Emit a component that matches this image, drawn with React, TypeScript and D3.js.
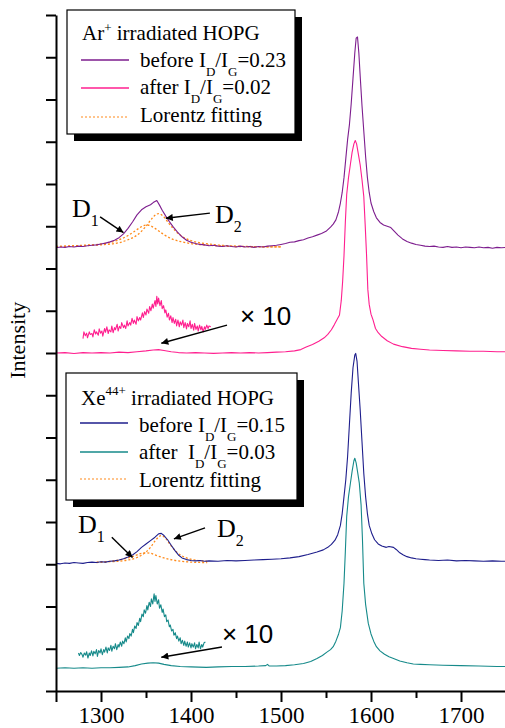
import React, { useEffect, useRef } from 'react';
import * as d3 from 'd3';

type Pt = [number, number];
type Part = { t: string; dy?: number; size?: number };

const xMajorTicks = [1250, 1300, 1400, 1500, 1600, 1700];
const xMinorTicks = [1350, 1450, 1550, 1650];
const yTicks = [0, 1, 2, 3, 4, 5, 6, 7, 8, 9, 10, 11, 12, 13, 14, 15, 16];

// Ar+ irradiated HOPG, before
const arBefore: Pt[] = [
  [1250, 10.49], [1255, 10.51], [1260, 10.5], [1265, 10.52], [1270, 10.51], [1275, 10.53], [1280, 10.52],
  [1285, 10.54], [1290, 10.55], [1295, 10.56], [1300, 10.58], [1305, 10.6], [1310, 10.63], [1315, 10.67],
  [1320, 10.73], [1325, 10.82], [1330, 10.95], [1335, 11.1], [1340, 11.27], [1345, 11.39], [1350, 11.46],
  [1355, 11.51], [1358, 11.56], [1362, 11.61], [1365, 11.5], [1368, 11.38], [1372, 11.24], [1376, 11.11],
  [1380, 10.99], [1385, 10.86], [1390, 10.75], [1395, 10.67], [1400, 10.62], [1405, 10.59], [1410, 10.57],
  [1415, 10.56], [1420, 10.54], [1425, 10.55], [1430, 10.53], [1435, 10.52], [1440, 10.54], [1445, 10.52],
  [1450, 10.51], [1455, 10.53], [1460, 10.51], [1465, 10.52], [1470, 10.5], [1475, 10.52], [1480, 10.51],
  [1485, 10.53], [1490, 10.54], [1495, 10.55], [1500, 10.57], [1505, 10.59], [1510, 10.62], [1515, 10.63],
  [1520, 10.66], [1525, 10.68], [1530, 10.72], [1535, 10.75], [1540, 10.79], [1545, 10.83], [1550, 10.88],
  [1555, 10.98], [1558, 11.05], [1561, 11.15], [1564, 11.35], [1566, 11.55], [1568, 11.8], [1570, 12.15],
  [1572, 12.6], [1574, 13.05], [1576, 13.4], [1578, 13.9], [1580, 14.5], [1582, 15.1], [1583.5, 15.45],
  [1585, 15.48], [1586.5, 15.1], [1588, 14.55], [1590, 13.85], [1592, 13.25], [1594, 12.65], [1596, 12.15],
  [1598, 11.8], [1600, 11.55], [1603, 11.35], [1606, 11.2], [1610, 11.09], [1614, 11.03], [1618, 11.0],
  [1622, 10.97], [1626, 10.88], [1630, 10.79], [1635, 10.7], [1640, 10.64], [1645, 10.6], [1650, 10.57],
  [1655, 10.55], [1660, 10.53], [1665, 10.52], [1670, 10.53], [1675, 10.51], [1680, 10.5], [1685, 10.52],
  [1690, 10.5], [1695, 10.51], [1700, 10.49], [1705, 10.51], [1710, 10.5], [1715, 10.49], [1720, 10.51],
  [1725, 10.49], [1730, 10.5], [1735, 10.48], [1740, 10.5], [1745, 10.49], [1750, 10.5],
];

// Ar+ irradiated HOPG, after
const arAfter: Pt[] = [
  [1250, 8.0], [1260, 8.01], [1270, 7.99], [1280, 8.01], [1290, 8.0], [1300, 8.01], [1310, 8.0], [1320, 8.02],
  [1330, 8.01], [1340, 8.03], [1350, 8.05], [1358, 8.07], [1364, 8.08], [1370, 8.06], [1378, 8.03], [1386, 8.01],
  [1395, 8.0], [1405, 8.01], [1415, 8.0], [1425, 7.99], [1435, 8.0], [1445, 8.01], [1455, 8.0], [1465, 8.01],
  [1475, 8.0], [1485, 8.01], [1495, 8.02], [1505, 8.03], [1515, 8.05], [1522, 8.08], [1528, 8.14], [1535, 8.2],
  [1542, 8.28], [1548, 8.36], [1552, 8.44], [1556, 8.55], [1559, 8.66], [1562, 8.78], [1565, 8.9], [1567, 9.25],
  [1568.5, 9.7], [1570, 10.3], [1571.5, 11.1], [1573, 11.75], [1575, 12.15], [1577, 12.45], [1579, 12.75],
  [1581, 12.95], [1582.5, 13.03], [1584, 12.95], [1586, 12.7], [1588, 12.45], [1590, 12.1], [1592, 11.7],
  [1593.5, 11.05], [1595, 10.35], [1596.5, 9.5], [1598, 9.15], [1600, 8.92], [1602, 8.8], [1605, 8.58],
  [1608, 8.48], [1612, 8.39], [1618, 8.29], [1625, 8.21], [1635, 8.15], [1645, 8.11], [1655, 8.09], [1665, 8.07],
  [1680, 8.06], [1695, 8.05], [1710, 8.04], [1725, 8.04], [1740, 8.03], [1750, 8.03],
];

// Ar+ after, D band magnified x10
const arAfterX10: Pt[] = [
  [1280, 8.34], [1281, 8.5], [1282.5, 8.41], [1284, 8.47], [1285, 8.36], [1287, 8.5], [1288, 8.44], [1290, 8.46],
  [1291, 8.38], [1292.5, 8.55], [1294, 8.45], [1295, 8.5], [1297, 8.42], [1298, 8.57], [1299.5, 8.47], [1301, 8.52],
  [1302, 8.4], [1304, 8.58], [1305, 8.49], [1306.5, 8.62], [1308, 8.46], [1309, 8.55], [1311, 8.5], [1312, 8.64],
  [1313.5, 8.48], [1315, 8.6], [1316, 8.55], [1318, 8.68], [1319, 8.52], [1320.5, 8.63], [1322, 8.58], [1323, 8.72],
  [1325, 8.6], [1326, 8.66], [1327.5, 8.58], [1329, 8.76], [1330, 8.64], [1332, 8.72], [1333, 8.66], [1334.5, 8.82],
  [1336, 8.7], [1337, 8.78], [1339, 8.68], [1340, 8.86], [1341.5, 8.76], [1343, 8.84], [1344, 8.78], [1346, 8.95],
  [1347, 8.84], [1348.5, 8.98], [1350, 8.9], [1351, 9.04], [1353, 8.94], [1354, 9.1], [1355.5, 9.0], [1357, 9.16],
  [1358, 9.06], [1360, 9.24], [1361, 9.1], [1362, 9.34], [1363, 9.16], [1364, 9.3], [1365.5, 9.12], [1367, 9.24],
  [1368, 9.05], [1369.5, 9.12], [1371, 8.95], [1372, 9.02], [1373.5, 8.85], [1375, 8.94], [1376, 8.78], [1377.5, 8.88],
  [1379, 8.72], [1380, 8.84], [1381.5, 8.7], [1383, 8.8], [1384, 8.64], [1385.5, 8.78], [1387, 8.62], [1388, 8.74],
  [1389.5, 8.66], [1391, 8.78], [1392, 8.6], [1393.5, 8.72], [1395, 8.57], [1396, 8.7], [1397.5, 8.62], [1399, 8.76],
  [1400, 8.58], [1401.5, 8.68], [1403, 8.54], [1404, 8.7], [1405.5, 8.56], [1407, 8.64], [1408, 8.52], [1409.5, 8.66],
  [1411, 8.55], [1412, 8.63], [1413.5, 8.5], [1415, 8.62], [1416, 8.56], [1417.5, 8.66], [1419, 8.58], [1420, 8.64],
  [1422, 8.62],
];

// Lorentz components, Ar+
const arD1Fit: Pt[] = [
  [1250, 10.52], [1280, 10.55], [1300, 10.58], [1320, 10.68], [1330, 10.78], [1340, 10.92], [1345, 10.99],
  [1351, 11.03], [1355, 11.01], [1360, 10.95], [1370, 10.8], [1380, 10.69], [1390, 10.63], [1400, 10.59],
  [1420, 10.55], [1450, 10.52], [1500, 10.51],
];
const arD2Fit: Pt[] = [
  [1250, 10.52], [1280, 10.54], [1300, 10.56], [1320, 10.61], [1330, 10.68], [1340, 10.79], [1350, 11.0],
  [1355, 11.14], [1360, 11.26], [1364, 11.3], [1370, 11.22], [1375, 11.08], [1380, 10.95], [1390, 10.76],
  [1400, 10.66], [1420, 10.58], [1450, 10.53], [1500, 10.51],
];

// Xe44+ irradiated HOPG, before
const xeBefore: Pt[] = [
  [1250, 3.02], [1255, 3.01], [1260, 3.03], [1265, 3.02], [1270, 3.04], [1275, 3.03], [1280, 3.02], [1285, 3.04],
  [1290, 3.05], [1295, 3.04], [1300, 3.06], [1305, 3.05], [1310, 3.07], [1315, 3.08], [1320, 3.1], [1325, 3.13],
  [1330, 3.17], [1335, 3.22], [1340, 3.3], [1345, 3.4], [1350, 3.48], [1355, 3.56], [1360, 3.64], [1364, 3.72],
  [1367, 3.73], [1370, 3.68], [1374, 3.58], [1378, 3.45], [1382, 3.33], [1386, 3.22], [1390, 3.15], [1395, 3.11],
  [1400, 3.09], [1405, 3.08], [1410, 3.09], [1415, 3.07], [1420, 3.08], [1430, 3.07], [1440, 3.09], [1450, 3.08],
  [1460, 3.09], [1470, 3.1], [1480, 3.11], [1490, 3.12], [1500, 3.13], [1510, 3.15], [1520, 3.18], [1530, 3.23],
  [1540, 3.29], [1547, 3.34], [1552, 3.4], [1556, 3.47], [1560, 3.57], [1563, 3.7], [1566, 3.92], [1568, 4.2],
  [1570, 4.6], [1572, 5.0], [1574, 5.55], [1576, 6.3], [1578, 7.05], [1580, 7.65], [1582, 7.95], [1583, 7.99],
  [1584.5, 7.8], [1586, 7.3], [1588, 6.65], [1590, 5.9], [1592, 5.15], [1594, 4.6], [1596, 4.2], [1598, 3.92],
  [1601, 3.72], [1604, 3.58], [1608, 3.48], [1612, 3.43], [1617, 3.4], [1620, 3.42], [1625, 3.4], [1628, 3.35],
  [1632, 3.27], [1636, 3.22], [1640, 3.18], [1645, 3.15], [1650, 3.13], [1655, 3.12], [1660, 3.11], [1665, 3.1],
  [1675, 3.09], [1685, 3.1], [1695, 3.08], [1705, 3.09], [1715, 3.08], [1725, 3.07], [1735, 3.08], [1745, 3.07],
  [1750, 3.07],
];

// Xe44+ irradiated HOPG, after
const xeAfter: Pt[] = [
  [1250, 0.54], [1260, 0.55], [1270, 0.54], [1280, 0.55], [1290, 0.54], [1300, 0.55], [1310, 0.55], [1320, 0.56],
  [1330, 0.57], [1338, 0.6], [1345, 0.64], [1352, 0.66], [1358, 0.67], [1364, 0.66], [1370, 0.63], [1378, 0.6],
  [1388, 0.58], [1400, 0.57], [1417, 0.56], [1430, 0.57], [1445, 0.58], [1460, 0.58], [1475, 0.59], [1483, 0.6],
  [1485, 0.63], [1487, 0.59], [1495, 0.59], [1505, 0.6], [1515, 0.62], [1525, 0.65], [1533, 0.7], [1540, 0.77],
  [1546, 0.84], [1551, 0.92], [1555, 0.98], [1558, 1.05], [1561, 1.18], [1564, 1.35], [1566, 1.5], [1568, 1.9],
  [1570, 2.55], [1571.5, 3.3], [1573, 4.13], [1575, 4.6], [1577, 4.9], [1579, 5.2], [1581, 5.45], [1582, 5.51],
  [1583.5, 5.4], [1585, 5.2], [1587, 4.92], [1589, 4.4], [1590.5, 3.6], [1592, 2.55], [1594, 2.05], [1597, 1.6],
  [1600, 1.35], [1603, 1.18], [1606, 1.05], [1610, 0.95], [1615, 0.87], [1620, 0.81], [1625, 0.77], [1632, 0.71],
  [1640, 0.67], [1647, 0.64], [1655, 0.63], [1665, 0.62], [1680, 0.61], [1700, 0.6], [1720, 0.59], [1740, 0.58],
  [1750, 0.58],
];

// Xe44+ after, D band magnified x10
const xeAfterX10: Pt[] = [
  [1275, 0.9], [1276, 0.84], [1277.5, 0.91], [1279, 0.86], [1280, 0.8], [1281.5, 0.9], [1283, 0.85], [1284, 0.93],
  [1285.5, 0.78], [1287, 0.9], [1288, 0.84], [1289.5, 0.95], [1291, 0.83], [1292, 0.94], [1293.5, 0.88], [1295, 0.98],
  [1296, 0.82], [1297.5, 0.96], [1299, 0.9], [1300, 1.0], [1301.5, 0.86], [1303, 0.98], [1304, 0.92], [1305.5, 1.04],
  [1307, 0.9], [1308, 1.02], [1309.5, 0.96], [1311, 1.08], [1312, 0.94], [1313.5, 1.06], [1315, 1.0], [1316, 1.12],
  [1317.5, 0.98], [1319, 1.1], [1320, 1.04], [1321.5, 1.16], [1323, 1.06], [1324, 1.18], [1325.5, 1.12], [1327, 1.26],
  [1328, 1.16], [1329.5, 1.3], [1331, 1.24], [1332, 1.36], [1333.5, 1.3], [1335, 1.46], [1336, 1.38], [1337.5, 1.54],
  [1339, 1.48], [1340, 1.62], [1341.5, 1.55], [1343, 1.72], [1344, 1.64], [1345.5, 1.82], [1347, 1.76], [1348, 1.92],
  [1349.5, 1.84], [1351, 2.02], [1352, 1.92], [1353.5, 2.1], [1355, 2.0], [1356, 2.18], [1357.5, 2.06], [1359, 2.3],
  [1360, 2.12], [1361, 2.26], [1362.5, 2.06], [1364, 2.16], [1365, 1.96], [1366.5, 2.04], [1368, 1.86], [1369, 1.94],
  [1370.5, 1.76], [1372, 1.8], [1373, 1.64], [1374.5, 1.68], [1376, 1.52], [1377, 1.56], [1378.5, 1.42], [1380, 1.46],
  [1381, 1.32], [1382.5, 1.38], [1384, 1.24], [1385, 1.3], [1386.5, 1.18], [1388, 1.26], [1389, 1.12], [1390.5, 1.2],
  [1392, 1.08], [1393, 1.18], [1394.5, 1.06], [1396, 1.16], [1397, 1.04], [1398.5, 1.14], [1400, 1.02], [1401, 1.12],
  [1402.5, 1.04], [1404, 1.14], [1405, 1.0], [1406.5, 1.1], [1408, 1.02], [1409, 1.16], [1410.5, 1.0], [1412, 1.1],
  [1413, 1.04], [1414.5, 1.14], [1416, 1.16],
];

// Lorentz components, Xe44+
const xeD1Fit: Pt[] = [
  [1295, 3.05], [1310, 3.07], [1320, 3.1], [1330, 3.15], [1340, 3.22], [1345, 3.26], [1350, 3.27], [1355, 3.26],
  [1360, 3.22], [1370, 3.15], [1380, 3.1], [1390, 3.07], [1400, 3.05], [1418, 3.04],
];
const xeD2Fit: Pt[] = [
  [1295, 3.04], [1310, 3.06], [1320, 3.07], [1330, 3.1], [1340, 3.16], [1350, 3.29], [1355, 3.4], [1360, 3.55],
  [1367, 3.68], [1372, 3.61], [1377, 3.46], [1385, 3.27], [1395, 3.15], [1405, 3.1], [1418, 3.07],
];

const PURPLE = '#7d1d8e';
const PINK = '#ff1f8f';
const NAVY = '#1e1e8c';
const TEAL = '#168a8a';
const ORANGE = '#ff8a1a';

const SERIF = "'Liberation Serif'";
const SANS = "'Liberation Sans'";

// annotations in data units: label anchor, arrow start, arrow end
const peakLabels = [
  { text: '1', at: [1267.8, 11.22], from: [1299, 11.22], to: [1325, 10.85] },
  { text: '2', at: [1426.7, 11.08], from: [1421, 11.31], to: [1372, 11.19] },
  { text: '1', at: [1274.4, 3.74], from: [1312, 3.64], to: [1335, 3.16] },
  { text: '2', at: [1428.9, 3.64], from: [1415.6, 3.86], to: [1381, 3.6] },
];
const zoomLabels = [
  { at: [1454.4, 8.66], from: [1440, 8.66], to: [1367, 8.23] },
  { at: [1434.4, 1.14], from: [1434.4, 1.04], to: [1367, 0.8] },
];

function richText(g: any, x: number, y: number, parts: Part[], size: number) {
  const t = g.append('text').attr('x', x).attr('y', y)
    .style('font-family', SERIF).style('font-size', `${size}px`).attr('fill', '#000');
  let shift = 0;
  parts.forEach((p) => {
    const target = p.dy || 0;
    t.append('tspan').attr('dy', target - shift).style('font-size', `${p.size || size}px`).text(p.t);
    shift = target;
  });
}

function App() {
  const svgRef = useRef<SVGSVGElement>(null);

  useEffect(() => {
    const svg = d3.select(svgRef.current);
    svg.selectAll('*').remove();

    const width = 505;
    const height = 728;
    svg.attr('width', width).attr('height', height);

    const x = d3.scaleLinear().domain([1250, 1750]).range([56, 506]);
    const y = d3.scaleLinear().domain([0, 16]).range([691, 15]);

    const defs = svg.append('defs');
    defs.append('marker')
      .attr('id', 'arrow')
      .attr('viewBox', '0 0 10 10')
      .attr('refX', 10).attr('refY', 5)
      .attr('markerWidth', 9).attr('markerHeight', 7)
      .attr('markerUnits', 'userSpaceOnUse')
      .attr('orient', 'auto')
      .append('path').attr('d', 'M0,0L10,5L0,10z').attr('fill', '#000');

    const line = d3.line<Pt>().x((d) => x(d[0])).y((d) => y(d[1]));
    const smooth = d3.line<Pt>().x((d) => x(d[0])).y((d) => y(d[1])).curve(d3.curveMonotoneX);

    // fits
    [arD1Fit, arD2Fit, xeD1Fit, xeD2Fit].forEach((s) => {
      svg.append('path').datum(s).attr('fill', 'none').attr('stroke', ORANGE)
        .attr('stroke-width', 1.3).attr('stroke-dasharray', '2,2').attr('d', smooth);
    });

    const series: [Pt[], string][] = [
      [arBefore, PURPLE], [arAfter, PINK], [arAfterX10, PINK],
      [xeBefore, NAVY], [xeAfter, TEAL], [xeAfterX10, TEAL],
    ];
    series.forEach(([s, c]) => {
      svg.append('path').datum(s).attr('fill', 'none').attr('stroke', c)
        .attr('stroke-width', 1.1).attr('stroke-linejoin', 'round').attr('d', line);
    });

    // axes
    const xAxis = svg.append('g').attr('transform', `translate(0,${y(0)})`)
      .call(d3.axisBottom(x).tickValues(xMajorTicks).tickSize(11).tickSizeOuter(0).tickPadding(5)
        .tickFormat((d: any) => (d === 1250 ? '' : String(d))));
    xAxis.attr('font-family', null).attr('font-size', null);
    xAxis.selectAll('text').style('font-size', '23px').style('font-family', SERIF).attr('fill', '#000');
    svg.append('g').attr('transform', `translate(0,${y(0)})`)
      .call(d3.axisBottom(x).tickValues(xMinorTicks).tickSize(7).tickSizeOuter(0).tickFormat(() => ''))
      .select('.domain').remove();

    svg.append('g').attr('transform', `translate(${x(1250)},0)`)
      .call(d3.axisLeft(y).tickValues(yTicks).tickSize(10).tickSizeOuter(0).tickFormat(() => ''));

    svg.selectAll('.domain').attr('stroke', '#000').attr('stroke-width', 2);
    svg.selectAll('.tick line').attr('stroke', '#000').attr('stroke-width', 2);

    svg.append('text')
      .attr('transform', `translate(25,${y(8.3)}) rotate(-90)`)
      .attr('text-anchor', 'middle')
      .style('font-family', SERIF).style('font-size', '22px')
      .text('Intensity');

    // D1 / D2 labels
    peakLabels.forEach((p) => {
      richText(svg, x(p.at[0]), y(p.at[1]), [{ t: 'D' }, { t: p.text, dy: 9, size: 16 }], 26);
      svg.append('line')
        .attr('x1', x(p.from[0])).attr('y1', y(p.from[1]))
        .attr('x2', x(p.to[0])).attr('y2', y(p.to[1]))
        .attr('stroke', '#000').attr('stroke-width', 1.4).attr('marker-end', 'url(#arrow)');
    });

    zoomLabels.forEach((p) => {
      svg.append('text').attr('x', x(p.at[0])).attr('y', y(p.at[1]))
        .style('font-family', SANS).style('font-size', '26px').text('\u00d7 10');
      svg.append('line')
        .attr('x1', x(p.from[0])).attr('y1', y(p.from[1]))
        .attr('x2', x(p.to[0])).attr('y2', y(p.to[1]))
        .attr('stroke', '#000').attr('stroke-width', 1.4).attr('marker-end', 'url(#arrow)');
    });

    // legends
    const legends = [
      {
        box: [67, 10, 228, 124], shadow: 7, titleY: 40,
        title: [{ t: 'Ar' }, { t: '+', dy: -8, size: 13 }, { t: ' irradiated HOPG' }],
        rows: [
          { y: 60, ty: 67, color: PURPLE, dash: null,
            parts: [{ t: 'before I' }, { t: 'D', dy: 9, size: 13 }, { t: '/I' }, { t: 'G', dy: 9, size: 13 }, { t: '=0.23' }] },
          { y: 88, ty: 94, color: PINK, dash: null,
            parts: [{ t: 'after I' }, { t: 'D', dy: 9, size: 13 }, { t: '/I' }, { t: 'G', dy: 9, size: 13 }, { t: '=0.02' }] },
          { y: 117, ty: 122, color: ORANGE, dash: '2,2', parts: [{ t: 'Lorentz fitting' }] },
        ],
      },
      {
        box: [66, 373, 231, 127], shadow: 7, titleY: 405,
        title: [{ t: 'Xe' }, { t: '44+', dy: -10, size: 13 }, { t: ' irradiated HOPG' }],
        rows: [
          { y: 423, ty: 432, color: NAVY, dash: null,
            parts: [{ t: 'before I' }, { t: 'D', dy: 9, size: 13 }, { t: '/I' }, { t: 'G', dy: 9, size: 13 }, { t: '=0.15' }] },
          { y: 452, ty: 459, color: TEAL, dash: null,
            parts: [{ t: 'after\u00a0\u00a0I' }, { t: 'D', dy: 9, size: 13 }, { t: '/I' }, { t: 'G', dy: 9, size: 13 }, { t: '=0.03' }] },
          { y: 479, ty: 487, color: ORANGE, dash: '2,2', parts: [{ t: 'Lorentz fitting' }] },
        ],
      },
    ];

    legends.forEach((lg) => {
      const [bx, by, bw, bh] = lg.box;
      const g = svg.append('g');
      g.append('rect').attr('x', bx + lg.shadow).attr('y', by + lg.shadow)
        .attr('width', bw).attr('height', bh).attr('fill', '#000');
      g.append('rect').attr('x', bx).attr('y', by).attr('width', bw).attr('height', bh)
        .attr('fill', '#fff').attr('stroke', '#000').attr('stroke-width', 1.2);
      richText(g, bx + 15, lg.titleY, lg.title, 21);
      lg.rows.forEach((r) => {
        g.append('line').attr('x1', bx + 14).attr('x2', bx + 62).attr('y1', r.y).attr('y2', r.y)
          .attr('stroke', r.color).attr('stroke-width', r.dash ? 1.2 : 1.3)
          .attr('stroke-dasharray', r.dash);
        richText(g, bx + 73, r.ty, r.parts, 21);
      });
    });
  }, []);

  return <svg ref={svgRef} style={{ position: 'absolute', left: 0, top: 0, display: 'block' }}></svg>;
}

export default App;
